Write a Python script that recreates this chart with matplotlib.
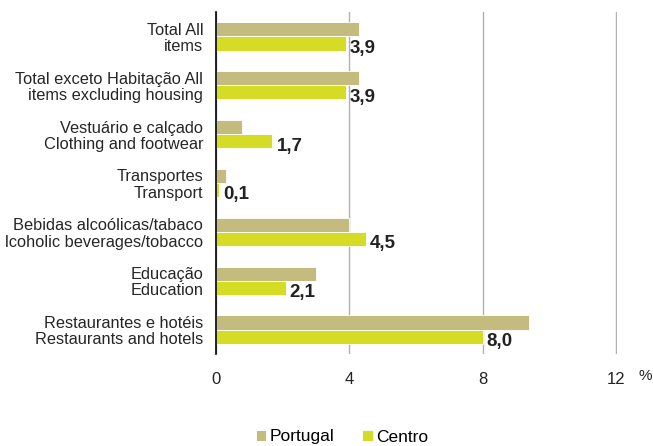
import matplotlib.pyplot as plt
import numpy as np

plt.rcParams['font.family'] = ['Liberation Sans', 'DejaVu Sans']

categories = [
    "Total All\nitems",
    "Total exceto Habitação All\nitems excluding housing",
    "Vestuário e calçado\nClothing and footwear",
    "Transportes\nTransport",
    "Bebidas alcoólicas/tabaco\nlcoholic beverages/tobacco",
    "Educação\nEducation",
    "Restaurantes e hotéis\nRestaurants and hotels",
]
portugal = [4.3, 4.3, 0.8, 0.3, 4.0, 3.0, 9.4]
centro = [3.9, 3.9, 1.7, 0.1, 4.5, 2.1, 8.0]
xticks = [0, 4, 8, 12]

col_pt = '#C4BC7E'
col_ce = '#D4DC26'

fig = plt.figure(figsize=(6.53, 4.46), dpi=100)
ax = fig.add_axes([215.7 / 653, 1 - 354 / 446, (617 - 215.7) / 653, (354 - 12) / 446])

y = np.arange(len(categories))
h = 0.29
ax.barh(y - h / 2, portugal, height=h, color=col_pt, edgecolor='white', linewidth=0.6,
        label='Portugal', zorder=3)
ax.barh(y + h / 2, centro, height=h, color=col_ce, edgecolor='white', linewidth=0.6,
        label='Centro', zorder=3)

for yi, v in zip(y, centro):
    ax.text(v + 0.12, yi + h / 2 + 0.1, f"{v:.1f}".replace('.', ','), va='center', ha='left',
            fontsize=13.5, fontweight='bold', color='#222222', zorder=4)

ax.set_ylim(len(categories) - 0.5, -0.5)
ax.set_xlim(0, 12.03)
ax.set_xticks(xticks)
ax.set_xticklabels([str(t) for t in xticks], fontsize=12, color='#222222')
ax.set_yticks(y)
ax.set_yticklabels(categories, fontsize=11.8, color='#262626', ha='right',
                   multialignment='right', linespacing=1.1)
ax.tick_params(axis='x', length=0, pad=13)
ax.tick_params(axis='y', length=0, pad=9)
ax.xaxis.grid(True, color='#B0B0B0', linewidth=1, zorder=0)
for s in ['top', 'right', 'bottom']:
    ax.spines[s].set_visible(False)
ax.spines['left'].set_color('black')
ax.spines['left'].set_linewidth(1.2)
ax.spines['left'].set_zorder(5)

fig.text(645 / 653, 1 - 376 / 446, '%', fontsize=11, color='#222222', ha='center', va='center')

fig.legend(loc='center', bbox_to_anchor=(342 / 653, 1 - 437 / 446), ncol=2, frameon=False,
           fontsize=12.5, handlelength=0.6, handleheight=0.6, handletextpad=0.2, columnspacing=1.6)

fig.savefig('out.png', dpi=100)
